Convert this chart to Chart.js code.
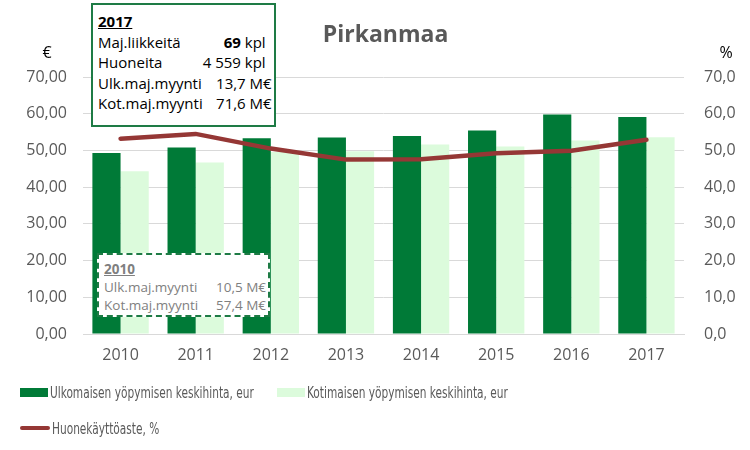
<!DOCTYPE html>
<html>
<head>
<meta charset="utf-8">
<script src="https://cdn.jsdelivr.net/npm/chart.js@4"></script>
<style>
  body { margin: 0; background: #fff; }
  #wrap { position: relative; width: 750px; height: 450px; font-family: "Open Sans", sans-serif; }
  canvas { position: absolute; left: 0; top: 0; }
  .box { position: absolute; background: #fff; box-sizing: border-box; }
  .box table { border-collapse: collapse; }
  .box td { padding: 0; white-space: nowrap; }
  .box td.v { text-align: right; }
  .box .h { font-weight: bold; text-decoration: underline; }
  #box2017 { left: 91px; top: 3px; width: 185px; height: 124px; border: 2px solid #1e7b45;
             font-size: 15px; line-height: 20.5px; color: #000; padding: 6px 0 0 5px; }
  #box2017 table { width: 172px; }
  #box2010 { left: 97px; top: 253px; width: 173px; height: 64px; border: 2px dashed #1e7b45;
             font-size: 13.5px; line-height: 18px; color: #7f7f7f; padding: 5px 0 0 5px; }
  #box2010 table { width: 162px; }
  #legend { position: absolute; left: 0; top: 0; font-family: "Liberation Sans Narrow", "DejaVu Sans Condensed", sans-serif;
            font-size: 16px; color: #595959; }
  .li { position: absolute; display: flex; align-items: center; white-space: nowrap; }
  .sw { display: inline-block; margin-right: 2px; flex: none; }
  .lt { display: inline-block; transform: scaleX(0.735); transform-origin: left center; }
</style>
</head>
<body>
<div id="wrap">
  <canvas id="myChart" width="750" height="450"></canvas>
  <div id="box2017" class="box">
    <table>
      <tr><td class="h" colspan="2">2017</td></tr>
      <tr><td>Maj.liikkeitä</td><td class="v" style="padding-right:6px"><b>69</b> kpl</td></tr>
      <tr><td>Huoneita</td><td class="v" style="padding-right:6px">4 559 kpl</td></tr>
      <tr><td>Ulk.maj.myynti</td><td class="v">13,7 M€</td></tr>
      <tr><td>Kot.maj.myynti</td><td class="v">71,6 M€</td></tr>
    </table>
  </div>
  <div id="box2010" class="box">
    <table>
      <tr><td class="h" colspan="2">2010</td></tr>
      <tr><td>Ulk.maj.myynti</td><td class="v">10,5 M€</td></tr>
      <tr><td>Kot.maj.myynti</td><td class="v">57,4 M€</td></tr>
    </table>
  </div>
  <div id="legend"></div>
</div>
<script>
const years = ['2010', '2011', '2012', '2013', '2014', '2015', '2016', '2017'];
const ulkoHinta = [49.3, 50.8, 53.3, 53.5, 53.9, 55.4, 59.8, 59.1];
const kotiHinta = [44.3, 46.7, 49.6, 49.8, 51.6, 51.1, 52.7, 53.6];
const kayttoaste = [53.2, 54.5, 50.5, 47.5, 47.6, 49.2, 49.9, 52.9];

const darkGreen = '#007a37';
const lightGreen = '#dcfbdc';
const lineRed = '#953735';
const textGray = '#595959';
const gridGray = '#d9d9d9';

const extraText = {
    id: 'extraText',
    afterDraw(chart) {
        const ctx = chart.ctx;
        const area = chart.chartArea;
        ctx.save();
        ctx.fillStyle = textGray;
        ctx.textAlign = 'center';
        ctx.textBaseline = 'middle';
        ctx.font = 'bold 23px "Open Sans"';
        ctx.fillText('Pirkanmaa', (area.left + area.right) / 2 + 2, 35);
        ctx.fillStyle = '#000';
        ctx.font = '16px "Open Sans"';
        ctx.fillText('€', 47, 53);
        ctx.fillText('%', 726, 53);
        ctx.restore();
    }
};

const ctx = document.getElementById('myChart').getContext('2d');
const chart = new Chart(ctx, {
    type: 'bar',
    data: {
        labels: years,
        datasets: [{
            label: 'Huonekäyttöaste, %',
            type: 'line',
            data: kayttoaste,
            yAxisID: 'y1',
            borderColor: lineRed,
            borderWidth: 4.5,
            borderCapStyle: 'round',
            pointRadius: 0,
            tension: 0,
            fill: false,
            order: 0
        }, {
            label: 'Ulkomaisen yöpymisen keskihinta, eur',
            data: ulkoHinta,
            backgroundColor: darkGreen,
            categoryPercentage: 0.75,
            barPercentage: 1.0,
            order: 1
        }, {
            label: 'Kotimaisen yöpymisen keskihinta, eur',
            data: kotiHinta,
            backgroundColor: lightGreen,
            categoryPercentage: 0.75,
            barPercentage: 1.0,
            order: 1
        }]
    },
    options: {
        responsive: false,
        animation: false,
        devicePixelRatio: 1,
        layout: { padding: { top: 77, bottom: 85 } },
        plugins: {
            legend: { display: false },
            tooltip: { enabled: false }
        },
        scales: {
            x: {
                grid: { display: false, drawTicks: false },
                border: { display: true, color: gridGray },
                ticks: { color: textGray, font: { family: 'Open Sans', size: 16 }, padding: 12 },
                afterFit: s => { s.height = 31; }
            },
            y: {
                min: 0, max: 70,
                ticks: {
                    stepSize: 10, color: textGray, padding: 16,
                    font: { family: 'Open Sans', size: 16 },
                    callback: v => v.toFixed(2).replace('.', ',')
                },
                grid: { color: gridGray, drawTicks: false },
                border: { display: false },
                afterFit: s => { s.width = 83; }
            },
            y1: {
                position: 'right',
                min: 0, max: 70,
                ticks: {
                    stepSize: 10, color: textGray, padding: 20,
                    font: { family: 'Open Sans', size: 16 },
                    callback: v => v.toFixed(1).replace('.', ',')
                },
                grid: { display: false, drawTicks: false },
                border: { display: false },
                afterFit: s => { s.width = 66; }
            }
        }
    },
    plugins: [extraText]
});

// HTML legend built from the datasets
const legendPos = [
    { ds: 1, left: 20, top: 392 },
    { ds: 2, left: 277, top: 392 },
    { ds: 0, left: 20, top: 428 }
];
const legend = document.getElementById('legend');
legendPos.forEach(p => {
    const d = chart.data.datasets[p.ds];
    const item = document.createElement('div');
    item.className = 'li';
    item.style.left = p.left + 'px';
    item.style.top = (p.top - 10) + 'px';
    item.style.height = '20px';
    const sw = document.createElement('span');
    sw.className = 'sw';
    if (d.type === 'line') {
        sw.style.cssText = 'width:30px;height:4px;border-radius:2px;background:' + d.borderColor;
    } else {
        sw.style.cssText = 'width:28px;height:9px;background:' + d.backgroundColor;
    }
    const tx = document.createElement('span');
    tx.className = 'lt';
    tx.textContent = d.label;
    item.appendChild(sw);
    item.appendChild(tx);
    legend.appendChild(item);
});
</script>
</body>
</html>
